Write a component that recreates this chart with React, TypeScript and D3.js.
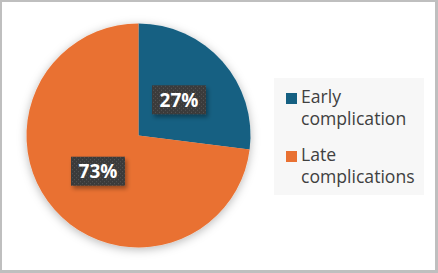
import React from "react";
import * as d3 from "d3";

const categories = ["Early complication", "Late complications"];
const values = [27, 73];
const valueLabels = ["27%", "73%"];
const legendLines = [["Early", "complication"], ["Late", "complications"]];
const colors = ["#156082", "#E97132"];

const W = 438;
const H = 273;

export default function App() {
  const cx = 138.5;
  const cy = 135.5;
  const R = 112;
  const pie = d3.pie<number>().sort(null).value((d) => d);
  const arcs = pie(values);
  const arc = d3.arc<d3.PieArcDatum<number>>().innerRadius(0).outerRadius(R);
  const labelArc = d3.arc<d3.PieArcDatum<number>>().innerRadius(54).outerRadius(54);

  const legendY = d3.scaleBand().domain(categories).range([80, 196]).paddingInner(0);

  return (
    <svg
      width={W}
      height={H}
      style={{ position: "absolute", left: 0, top: 0, display: "block" }}
    >
      <defs>
        <filter id="pieShadow" x="-20%" y="-20%" width="140%" height="140%">
          <feDropShadow dx="0" dy="2" stdDeviation="5" floodColor="#000" floodOpacity="0.28" />
        </filter>
        <filter id="boxShadow" x="-20%" y="-30%" width="150%" height="170%">
          <feDropShadow dx="2" dy="3" stdDeviation="2" floodColor="#000" floodOpacity="0.35" />
        </filter>
        <pattern id="dots" width="4" height="4" patternUnits="userSpaceOnUse">
          <rect width="4" height="4" fill="#3b3b3b" />
          <rect x="0" y="0" width="1" height="1" fill="#5a5a5a" />
          <rect x="2" y="2" width="1" height="1" fill="#555555" />
        </pattern>
      </defs>
      <rect x={0} y={0} width={W} height={H} fill="#bfbfbf" />
      <rect x={2} y={2} width={433} height={268} fill="#ffffff" />

      <g filter="url(#pieShadow)">
        <g transform={`translate(${cx},${cy})`}>
          {arcs.map((a, i) => (
            <path key={i} d={arc(a) || ""} fill={colors[i]} />
          ))}
        </g>
      </g>
      <g transform={`translate(${cx},${cy})`}>
        {arcs.map((a, i) => {
          const [lx, ly] = labelArc.centroid(a);
          const bw = 54;
          const bh = 29;
          return (
            <g key={i} transform={`translate(${lx},${ly})`}>
              <rect
                x={-bw / 2}
                y={-bh / 2}
                width={bw}
                height={bh}
                fill="url(#dots)"
                filter="url(#boxShadow)"
              />
              <text
                x={0}
                y={0}
                dy="0.36em"
                textAnchor="middle"
                fill="#ffffff"
                fontFamily="'Open Sans', 'Noto Sans', sans-serif"
                fontWeight="bold"
                fontSize={19}
              >
                {valueLabels[i]}
              </text>
            </g>
          );
        })}
      </g>

      <rect x={274} y={78} width={150} height={117} fill="#f7f7f7" />
      {categories.map((c, i) => {
        const y0 = legendY(c) as number;
        return (
          <g key={c}>
            <rect x={286} y={y0 + 13} width={11} height={11} fill={colors[i]} />
            {legendLines[i].map((ln, j) => (
              <text
                key={j}
                x={301}
                y={y0 + 23 + j * 22}
                fill="#404040"
                fontFamily="'Open Sans', 'Noto Sans', sans-serif"
                fontSize={17.6}
              >
                {ln}
              </text>
            ))}
          </g>
        );
      })}
    </svg>
  );
}
